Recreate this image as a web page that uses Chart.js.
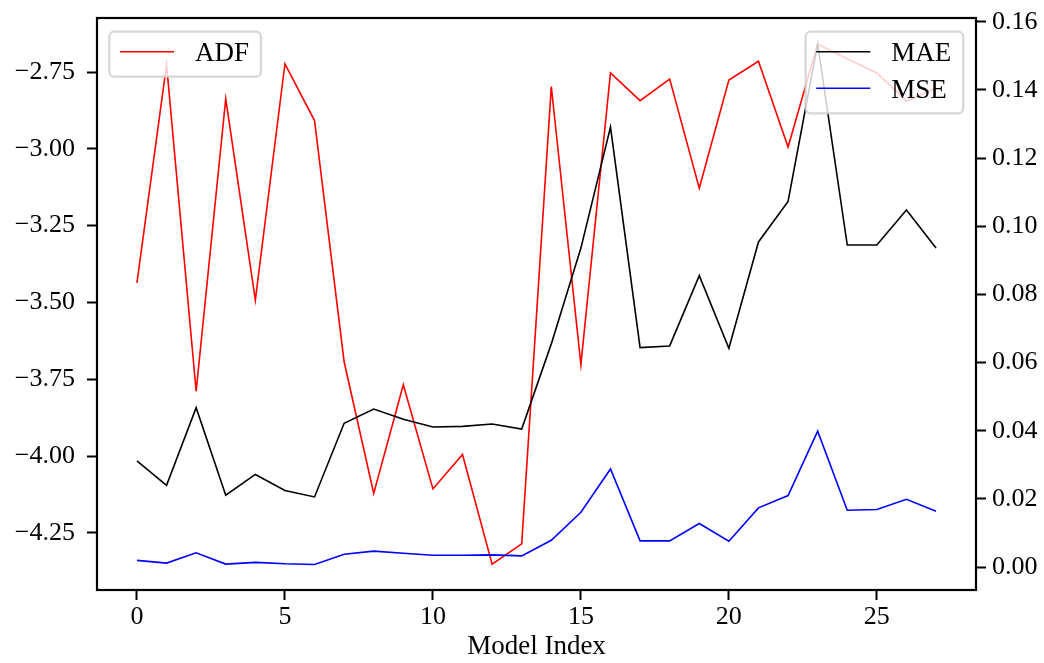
<!DOCTYPE html>
<html>
<head>
<meta charset="utf-8">
<title>ADF / MAE / MSE by model</title>
<script src="https://cdn.jsdelivr.net/npm/chart.js@4/dist/chart.umd.min.js"></script>
<style>
  html, body { margin: 0; padding: 0; background: #ffffff; }
  canvas { display: block; }
</style>
</head>
<body>
<canvas id="chart" width="1044" height="663"></canvas>
<script>
const MODEL_INDEX = [0, 1, 2, 3, 4, 5, 6, 7, 8, 9, 10, 11, 12, 13, 14, 15, 16, 17, 18, 19, 20, 21, 22, 23, 24, 25, 26, 27];

const ADF = [-3.436, -2.726, -3.789, -2.837, -3.492, -2.723, -2.908, -3.693, -4.122, -3.768,
  -4.107, -3.995, -4.352, -4.286, -2.797, -3.702, -2.753, -2.843, -2.773, -3.128,
  -2.776, -2.715, -2.994, -2.659, -2.707, -2.753, -2.844, -2.802];

const MAE = [0.0312, 0.0240, 0.0468, 0.0211, 0.0272, 0.0225, 0.0206, 0.0422, 0.0464, 0.0434,
  0.0411, 0.0413, 0.0420, 0.0405, 0.0655, 0.0936, 0.1291, 0.0644, 0.0649, 0.0855,
  0.0642, 0.0954, 0.1073, 0.1535, 0.0945, 0.0945, 0.1048, 0.0936];

const MSE = [0.0020, 0.0012, 0.0042, 0.0009, 0.0014, 0.0010, 0.0008, 0.0038, 0.0047, 0.0041,
  0.0035, 0.0035, 0.0036, 0.0033, 0.0079, 0.0161, 0.0288, 0.0077, 0.0077, 0.0128,
  0.0076, 0.0174, 0.0210, 0.0399, 0.0167, 0.0169, 0.0199, 0.0164];

const X_TICKS = [0, 5, 10, 15, 20, 25];
const ADF_TICKS = [-4.25, -4.0, -3.75, -3.5, -3.25, -3.0, -2.75];
const ERR_TICKS = [0, 0.02, 0.04, 0.06, 0.08, 0.1, 0.12, 0.14, 0.16];

// axis limits with a 5% margin around the data
const X_RANGE = [-1.35, 28.35];
const ADF_RANGE = [-4.436, -2.574];
const ERR_RANGE = [-0.0067, 0.1611];

const FONT = '"Liberation Serif", "Times New Roman", serif';
const TICK_SIZE = 26;
const LEGEND_SIZE = 27;
const LINE_WIDTH = 1.6;

Chart.defaults.font.family = FONT;
Chart.defaults.color = '#000000';

const points = values => MODEL_INDEX.map((x, i) => ({ x, y: values[i] }));
const fixedTicks = list => scale => { scale.ticks = list.map(value => ({ value })); };
const minus = v => v.toFixed(2).replace('-', '\u2212');

// fixed axis sizes, no extra room reserved for overhanging labels
const fitY = width => scale => {
  scale.width = width;
  scale.paddingTop = 0;
  scale.paddingBottom = 0;
};

const tickMarks = {
  display: true,
  drawOnChartArea: false,
  drawTicks: true,
  tickLength: 10,
  tickWidth: 2,
  tickColor: '#000000',
};

function drawLegend(ctx, x, top, datasets, anchor) {
  ctx.save();
  ctx.font = `${LEGEND_SIZE}px ${FONT}`;
  const textW = Math.max(...datasets.map(d => ctx.measureText(d.label).width));
  const w = 10.7 + 54 + 21 + textW + 12;
  const h = 20 + (datasets.length - 1) * 36.6 + 25;
  const left = anchor === 'left' ? x : x - w;

  ctx.beginPath();
  ctx.roundRect(left, top, w, h, 5);
  ctx.fillStyle = 'rgba(255, 255, 255, 0.8)';
  ctx.fill();
  ctx.strokeStyle = 'rgba(204, 204, 204, 0.8)';
  ctx.lineWidth = 2.2;
  ctx.stroke();

  datasets.forEach((d, i) => {
    const y = top + 20 + i * 36.6;
    ctx.beginPath();
    ctx.moveTo(left + 10.7, y);
    ctx.lineTo(left + 64.7, y);
    ctx.strokeStyle = d.borderColor;
    ctx.lineWidth = d.borderWidth;
    ctx.stroke();
    ctx.fillStyle = '#000000';
    ctx.textBaseline = 'alphabetic';
    ctx.textAlign = 'left';
    ctx.fillText(d.label, left + 85.7, y + 9.5);
  });
  ctx.restore();
}

// ADF legend sits under the twin-axis lines, MAE/MSE legend and frame on top
const frameAndLegends = {
  id: 'frameAndLegends',
  afterDatasetDraw(chart, args) {
    if (args.index !== 0) return;
    const a = chart.chartArea;
    drawLegend(chart.ctx, a.left + 12.3, a.top + 13.7, [chart.data.datasets[0]], 'left');
  },
  afterDatasetsDraw(chart) {
    const { ctx, chartArea: a } = chart;
    drawLegend(ctx, a.right - 12.7, a.top + 13.7, chart.data.datasets.slice(1), 'right');
    ctx.save();
    ctx.strokeStyle = '#000000';
    ctx.lineWidth = 2.2;
    ctx.strokeRect(a.left, a.top, a.right - a.left, a.bottom - a.top);
    ctx.restore();
  },
};

new Chart(document.getElementById('chart'), {
  type: 'line',
  data: {
    datasets: [
      { label: 'ADF', data: points(ADF), yAxisID: 'yAdf', borderColor: '#ff0000', borderWidth: LINE_WIDTH, order: 2 },
      { label: 'MAE', data: points(MAE), yAxisID: 'yErr', borderColor: '#000000', borderWidth: LINE_WIDTH, order: 1 },
      { label: 'MSE', data: points(MSE), yAxisID: 'yErr', borderColor: '#0000ff', borderWidth: LINE_WIDTH, order: 0 },
    ],
  },
  options: {
    responsive: false,
    animation: false,
    layout: { padding: { top: 18, left: 0, right: 0, bottom: 0 } },
    elements: {
      point: { radius: 0, hoverRadius: 0 },
      line: { tension: 0, fill: false },
    },
    plugins: {
      legend: { display: false },
      tooltip: { enabled: false },
    },
    scales: {
      x: {
        type: 'linear',
        min: X_RANGE[0],
        max: X_RANGE[1],
        afterBuildTicks: fixedTicks(X_TICKS),
        afterFit: scale => {
          scale.height = 73;
          scale.paddingLeft = 0;
          scale.paddingRight = 0;
        },
        grid: tickMarks,
        border: { display: false },
        ticks: {
          autoSkip: false,
          maxRotation: 0,
          padding: 2,
          font: { size: TICK_SIZE },
          callback: v => String(v),
        },
        title: {
          display: true,
          text: 'Model Index',
          font: { size: LEGEND_SIZE },
          padding: { top: 0, bottom: 0 },
        },
      },
      yAdf: {
        type: 'linear',
        position: 'left',
        min: ADF_RANGE[0],
        max: ADF_RANGE[1],
        afterBuildTicks: fixedTicks(ADF_TICKS),
        afterFit: fitY(97),
        grid: tickMarks,
        border: { display: false },
        ticks: {
          autoSkip: false,
          padding: 12,
          font: { size: TICK_SIZE },
          callback: minus,
        },
      },
      yErr: {
        type: 'linear',
        position: 'right',
        min: ERR_RANGE[0],
        max: ERR_RANGE[1],
        afterBuildTicks: fixedTicks(ERR_TICKS),
        afterFit: fitY(68),
        grid: tickMarks,
        border: { display: false },
        ticks: {
          autoSkip: false,
          padding: 6,
          font: { size: TICK_SIZE },
          callback: v => v.toFixed(2),
        },
      },
    },
  },
  plugins: [frameAndLegends],
});
</script>
</body>
</html>
